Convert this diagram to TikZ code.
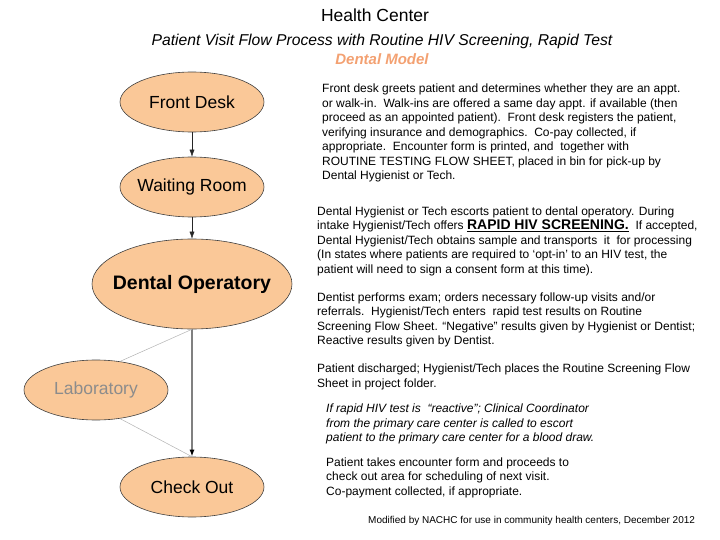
\documentclass[tikz,border=0pt]{standalone}
\usepackage{fontspec}
\setmainfont{Liberation Sans}
\usetikzlibrary{arrows.meta,shapes.geometric}
\definecolor{peach}{HTML}{FAC898}
\definecolor{salmon}{HTML}{F3A172}
\newcommand{\fsz}[2]{\fontsize{#1}{#2}\selectfont}

\begin{document}
\begin{tikzpicture}[x=1pt, y=-1pt, >={Latex[length=7pt,width=5pt]},
	stage/.style={ellipse, draw=black!75, fill=peach, line width=0.6pt, minimum width=144pt, minimum height=60pt, inner xsep=-12pt, inner ysep=0pt, font=\fsz{17.5}{20}},
	note/.style={anchor=north west, align=left, inner sep=0pt, font=\fsz{12}{14.5}},
	faint/.style={draw=black!30, line width=0.5pt}]
	\useasboundingbox (0,0) rectangle (720,540);
	\node[font=\fsz{17.5}{20}] (title) at (375,15) {Health Center};
	\node[font=\fsz{15.7}{18}\itshape] (subtitle) at (382,41.5) {Patient Visit Flow Process with Routine HIV Screening, Rapid Test};
	\node[font=\fsz{15}{18}\bfseries\itshape, text=salmon] (model) at (382,59) {Dental Model};
	\node[stage] (front) at (192,102) {Front Desk};
	\node[stage] (waiting) at (192,187) {Waiting Room};
	\node[stage, minimum width=200pt, minimum height=90pt, font=\fsz{19.5}{22}\bfseries] (dental) at (192,284) {Dental Operatory};
	\node[stage, text=black!45] (lab) at (96,390) {Laboratory};
	\node[stage] (checkout) at (192,487) {Check Out};
	\draw[->, black!85] (front) -- (waiting);
	\draw[->, black!85] (waiting) -- (dental);
	\draw[black!50, line width=1.5pt, -{Latex[length=7pt,width=5pt,color=black]}] (dental) -- (checkout);
	\draw[faint] (dental.south) -- (lab.50);
	\draw[faint] (lab.-50) -- (checkout.north);
	\node[note] (frontnote) at (322,83.7) {Front desk greets patient and determines whether they are an appt.\\
		or walk-in.\ \ Walk-ins are offered a same day appt. if available (then\\
		proceed as an appointed patient).\ \ Front desk registers the patient,\\
		verifying insurance and demographics.\ \ Co-pay collected, if\\
		appropriate.\ \ Encounter form is printed, and\ \ together with\\
		ROUTINE TESTING FLOW SHEET, placed in bin for pick-up by\\
		Dental Hygienist or Tech.};
	\node[note] (intakenote) at (317,206.4) {Dental Hygienist or Tech escorts patient to dental operatory. During\\
		intake Hygienist/Tech offers {\fsz{14}{17}\bfseries\underline{RAPID HIV SCREENING.}}\ \ If accepted,\\
		Dental Hygienist/Tech obtains sample and transports\ \ it\ \ for processing\\
		(In states where patients are required to ‘opt-in’ to an HIV test, the\\
		patient will need to sign a consent form at this time).};
	\node[note] (examnote) at (317,292.4) {Dentist performs exam; orders necessary follow-up visits and/or\\
		referrals.\ \ Hygienist/Tech enters\ \ rapid test results on Routine\\
		Screening Flow Sheet. “Negative” results given by Hygienist or Dentist;\\
		Reactive results given by Dentist.};
	\node[note] (dischargenote) at (317,363.7) {Patient discharged; Hygienist/Tech places the Routine Screening Flow\\
		Sheet in project folder.};
	\node[note, font=\fsz{12}{14.5}\itshape] (labnote) at (326,403.7) {If rapid HIV test is\ \ “reactive”; Clinical Coordinator\\
		from the primary care center is called to escort\\
		patient to the primary care center for a blood draw.};
	\node[note] (checkoutnote) at (326,457.4) {Patient takes encounter form and proceeds to\\
		check out area for scheduling of next visit.\\
		Co-payment collected, if appropriate.};
	\node[anchor=west, inner sep=0pt, font=\fsz{10}{12}] (credit) at (368,521) {Modified by NACHC for use in community health centers, December 2012};
\end{tikzpicture}
\end{document}
